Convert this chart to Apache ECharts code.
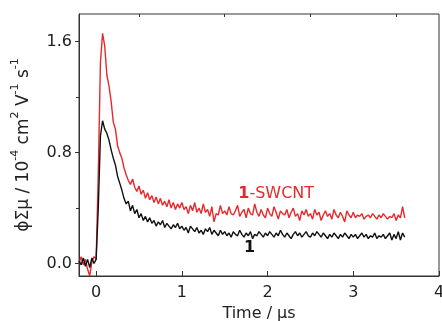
<!DOCTYPE html>
<html><head><meta charset="utf-8">
<script src="https://cdn.jsdelivr.net/npm/echarts@6/dist/echarts.min.js"></script>
<style>html,body{margin:0;padding:0;background:#fff}#c{width:442px;height:321px}</style>
</head><body><div id="c"></div>
<script>
// sampling grid of the transients (µs)
const tStart = -0.2;
const tStep = 0.025;
// series "1" (black)
const seriesBlack = [
0.02,-0.01,0.04,-0.02,0.03,-0.03,0.04,0.00,0.03,
0.40,0.92,1.03,0.97,0.94,0.89,0.82,0.76,0.71,0.63,0.58,
0.53,0.47,0.43,0.45,0.38,0.42,0.36,0.39,0.33,0.36,
0.31,0.34,0.30,0.33,0.29,0.31,0.27,0.30,0.28,0.31,
0.26,0.29,0.27,0.25,0.28,0.26,0.29,0.25,
0.27,0.24,0.26,0.22,0.27,0.25,0.23,0.26,0.22,0.24,0.21,0.25,0.23,0.26,0.21,0.24,0.22,0.20,0.24,0.21,
0.23,0.20,0.22,0.19,0.23,0.21,0.20,0.24,0.21,0.19,0.22,0.20,0.23,0.18,0.21,0.20,0.23,0.21,0.19,0.22,
0.20,0.23,0.21,0.19,0.22,0.20,0.24,0.21,0.19,0.22,0.20,0.18,0.21,0.23,0.20,0.22,0.19,0.21,0.23,0.20,
0.19,0.22,0.20,0.23,0.21,0.19,0.22,0.20,0.18,0.21,0.19,0.22,0.20,0.18,0.21,0.19,0.22,0.20,0.18,0.21,
0.19,0.21,0.18,0.20,0.22,0.19,0.21,0.18,0.20,0.19,0.22,0.18,0.20,0.19,0.21,0.18,0.20,0.22,0.17,0.21,0.18,0.23,0.17,0.22,0.19
];
// series "1-SWCNT" (red)
const seriesRed = [
0.00,0.05,-0.01,0.03,-0.04,-0.09,0.01,0.05,0.03,
0.65,1.45,1.66,1.57,1.36,1.28,1.17,1.02,0.97,0.85,0.80,
0.76,0.69,0.64,0.60,0.57,0.61,0.55,0.52,0.56,0.50,
0.53,0.47,0.51,0.46,0.49,0.44,0.48,0.43,0.47,0.42,
0.45,0.41,0.46,0.40,0.44,0.39,0.43,0.40,
0.44,0.39,0.41,0.36,0.42,0.38,0.44,0.37,0.40,0.36,0.43,0.37,0.39,0.34,0.41,0.30,0.36,0.35,0.42,0.36,
0.38,0.35,0.41,0.36,0.35,0.38,0.42,0.34,0.37,0.39,0.33,0.40,0.36,0.35,0.43,0.37,0.34,0.39,0.35,0.33,
0.40,0.36,0.34,0.41,0.37,0.32,0.38,0.36,0.35,0.39,0.33,0.37,0.40,0.34,0.36,0.31,0.38,0.35,0.39,0.34,
0.36,0.32,0.39,0.35,0.37,0.31,0.35,0.38,0.34,0.36,0.32,0.39,0.35,0.33,0.37,0.34,0.30,0.38,0.35,0.33,
0.37,0.33,0.35,0.34,0.36,0.32,0.34,0.35,0.33,0.36,0.34,0.32,0.35,0.33,0.36,0.34,0.32,0.34,0.33,0.36,0.31,0.35,0.33,0.41,0.33
];
const xMajorTicks = [0, 1, 2, 3, 4];
const xMinorTicks = [0.5, 1.5, 2.5, 3.5];
const yMajorTicks = [0, 0.8, 1.6];
const yMinorTicks = [0.4, 1.2];
const labelRed = ['1', '-SWCNT'];
const labelBlack = '1';
const labelRedAt = [2.10, 0.50];
const labelBlackAt = [1.79, 0.11];

const toPairs = arr => arr.map((v, i) => [+(tStart + i * tStep).toFixed(3), v]);
const FONT = 'DejaVu Sans';
const RED = '#e8292c';
const BLACK = '#111111';

const chart = echarts.init(document.getElementById('c'), null, {renderer: 'canvas'});
const xBase = {type: 'value', min: -0.2, max: 4, splitLine: {show: false}};
const yBase = {type: 'value', min: -0.09, max: 1.8, splitLine: {show: false}};
chart.setOption({
  animation: false,
  grid: {left: 79, right: 3, top: 14, bottom: 45, containLabel: false, outerBoundsMode: 'none',
    show: true, borderColor: '#333', borderWidth: 1, backgroundColor: 'transparent'},
  xAxis: [
    Object.assign({}, xBase, {
      name: 'Time / μs', nameLocation: 'middle', nameGap: 29,
      nameTextStyle: {fontFamily: FONT, fontSize: 16, color: '#222'},
      axisLine: {show: true, onZero: false, lineStyle: {color: '#333'}},
      axisTick: {show: true, inside: true, length: 5, customValues: xMajorTicks, lineStyle: {color: '#333'}},
      axisLabel: {show: true, customValues: xMajorTicks, margin: 9, fontFamily: FONT, fontSize: 16, color: '#222'}
    }),
    Object.assign({}, xBase, {
      axisLine: {show: false, onZero: false},
      axisTick: {show: true, inside: true, length: 3, customValues: xMinorTicks, lineStyle: {color: '#333'}},
      axisLabel: {show: false}
    })
  ],
  yAxis: [
    Object.assign({}, yBase, {
      name: '{a|ϕΣμ / 10}{s|-4}{a| cm}{s|2}{a| V}{s|-1}{a| s}{s|-1}',
      nameLocation: 'middle', nameGap: 47, nameRotate: 90,
      nameTextStyle: {
        rich: {
          a: {fontFamily: FONT, fontSize: 17, color: '#222', lineHeight: 22, verticalAlign: 'bottom'},
          s: {fontFamily: FONT, fontSize: 11, color: '#222', lineHeight: 22, verticalAlign: 'top'}
        }
      },
      axisLine: {show: true, onZero: false, lineStyle: {color: '#333'}},
      axisTick: {show: true, inside: false, length: 4, customValues: yMajorTicks, lineStyle: {color: '#333'}},
      axisLabel: {show: true, customValues: yMajorTicks, margin: 7, fontFamily: FONT, fontSize: 16, color: '#222',
        formatter: v => v.toFixed(1)}
    }),
    Object.assign({}, yBase, {
      position: 'left',
      axisLine: {show: false, onZero: false},
      axisTick: {show: true, inside: false, length: 3, customValues: yMinorTicks, lineStyle: {color: '#333'}},
      axisLabel: {show: false}
    })
  ],
  series: [
    {
      name: '1', type: 'line', data: toPairs(seriesBlack), symbol: 'none',
      lineStyle: {color: BLACK, width: 1.4}, z: 3,
      markPoint: {
        symbol: 'circle', symbolSize: 0, silent: true,
        data: [{coord: labelBlackAt, label: {show: true, formatter: labelBlack, fontFamily: FONT, fontSize: 16, fontWeight: 'bold', color: BLACK}}]
      }
    },
    {
      name: '1-SWCNT', type: 'line', data: toPairs(seriesRed), symbol: 'none',
      lineStyle: {color: RED, width: 1.4}, z: 2,
      markPoint: {
        symbol: 'circle', symbolSize: 0, silent: true,
        data: [{coord: labelRedAt, label: {show: true,
          formatter: '{b|' + labelRed[0] + '}{n|' + labelRed[1] + '}',
          rich: {b: {fontFamily: FONT, fontSize: 16, fontWeight: 'bold', color: RED},
                 n: {fontFamily: FONT, fontSize: 16, color: RED}}}}]
      }
    }
  ]
});
</script></body></html>
